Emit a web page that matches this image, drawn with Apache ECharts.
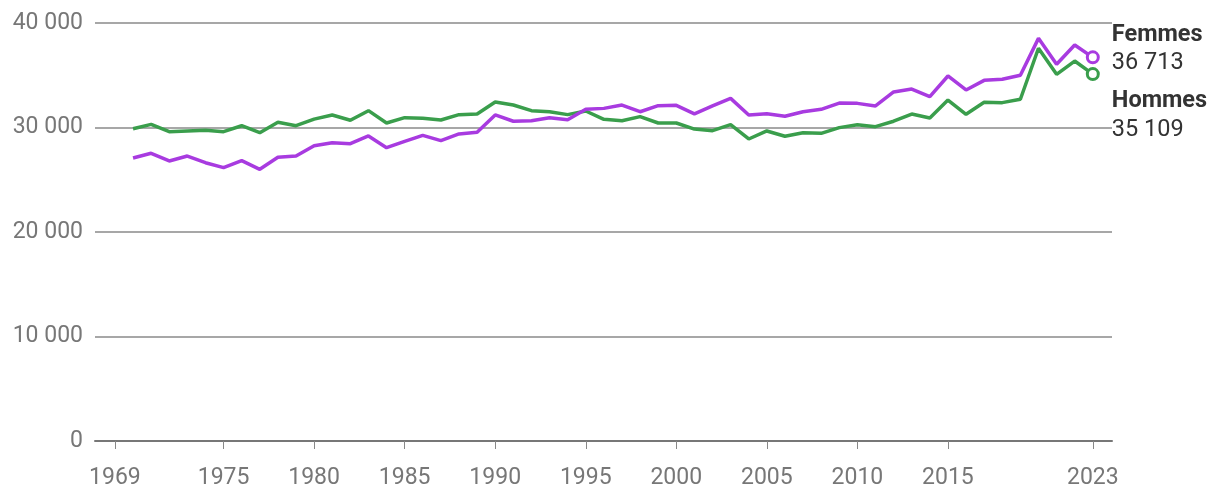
<!DOCTYPE html>
<html><head><meta charset="utf-8">
<script src="https://cdn.jsdelivr.net/npm/echarts@6/dist/echarts.min.js"></script>
<style>html,body{margin:0;padding:0;background:#fff}#c{width:1220px;height:502px}</style>
</head><body><div id="c"></div>
<script>
const years = [];
for (let y = 1970; y <= 2023; y++) years.push(y);
const femmes = [27080,27530,26800,27270,26630,26160,26830,26000,27150,27270,
28260,28550,28450,29190,28070,28680,29250,28740,29380,29540,
31200,30600,30650,30940,30750,31740,31830,32150,31510,32090,
32120,31310,32060,32790,31200,31320,31070,31510,31740,32340,
32310,32060,33400,33680,32950,34930,33590,34510,34610,35000,
38530,36050,37900,36713];
const hommes = [29880,30300,29600,29665,29730,29600,30170,29500,30500,30170,
30800,31200,30690,31610,30430,30940,30880,30720,31230,31290,
32440,32150,31610,31510,31230,31580,30780,30650,31040,30430,
30430,29850,29700,30270,28900,29670,29160,29500,29440,29990,
30270,30080,30600,31290,30910,32630,31260,32410,32380,32700,
37580,35090,36360,35109];
const xTicks = [1969,1975,1980,1985,1990,1995,2000,2005,2010,2015,2023];
const yTicks = [0,10000,20000,30000,40000];
const seriesNames = ['Femmes','Hommes'];
const colors = ['#a83be0','#3a9e4c'];

const fmt = v => String(Math.round(v)).replace(/\B(?=(\d{3})+(?!\d))/g, ' ');
const font = 'Roboto, "Noto Sans", sans-serif';

function mk(name, vals, color, off) {
  const data = vals.map((v, i) => {
    const last = i === vals.length - 1;
    return last ? {value: [years[i], v], symbol: 'circle', symbolSize: 11,
      itemStyle: {color: '#fff', borderColor: color, borderWidth: 3}} : [years[i], v];
  });
  return {
    type: 'line', name: name, data: data, showSymbol: true,
    symbol: 'none', symbolSize: 11,
    lineStyle: {color: color, width: 3.5},
    itemStyle: {color: color},
    animation: false, silent: true,
    endLabel: {
      show: true, distance: 19, offset: [0, off],
      formatter: p => '{a|' + name + '}\n{b|' + fmt(p.value[1]) + '}',
      rich: {
        a: {fontFamily: font, fontSize: 23.5, fontWeight: 'bold', color: '#333', lineHeight: 28.5},
        b: {fontFamily: font, fontSize: 23.5, color: '#333', lineHeight: 28.5}
      }
    }
  };
}

const chart = echarts.init(document.getElementById('c'), null, {renderer: 'canvas'});
chart.setOption({
  backgroundColor: '#fff',
  animation: false,
  grid: {left: 95, right: 108, top: 23, bottom: 61, containLabel: false},
  xAxis: {
    type: 'value', min: 1967.9, max: 2024.06,
    splitLine: {show: false},
    axisLine: {show: true, lineStyle: {color: '#777', width: 2}},
    axisTick: {show: true, customValues: xTicks, length: 8, lineStyle: {color: '#888', width: 1}},
    axisLabel: {customValues: xTicks, color: '#777', fontFamily: font, fontSize: 23, margin: 26,
      formatter: v => String(v)}
  },
  yAxis: {
    type: 'value', min: 0, max: 40000, interval: 10000,
    axisLine: {show: false}, axisTick: {show: false},
    splitLine: {lineStyle: {color: '#8a8a8a', width: 1.5}},
    axisLabel: {color: '#777', fontFamily: font, fontSize: 23, margin: 12, formatter: v => fmt(v)}
  },
  series: [mk(seriesNames[1], hommes, colors[1], 41.5), mk(seriesNames[0], femmes, colors[0], -8)]
});
</script></body></html>
